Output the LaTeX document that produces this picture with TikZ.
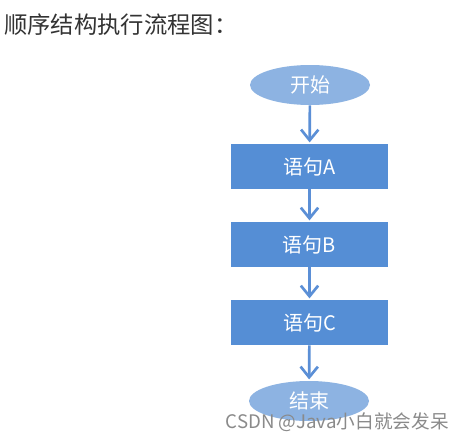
\documentclass[tikz,border=0pt]{standalone}
\usepackage{fontspec}
\setmainfont{Noto Sans CJK SC}
\usetikzlibrary{shapes.geometric,arrows.meta}
\definecolor{boxblue}{HTML}{558ED5}
\definecolor{ellblue}{HTML}{8DB3E2}
\definecolor{arrblue}{HTML}{5B8FD6}
\definecolor{titlegray}{HTML}{333333}
\definecolor{wmgray}{HTML}{8A8A8A}
\tikzset{
  stepbox/.style={fill=boxblue, draw=none, minimum width=157*0.75pt, minimum height=45*0.75pt, inner sep=0pt, text=white, font=\fontsize{15}{17}\selectfont},
  terminal/.style={ellipse, fill=ellblue, draw=none, minimum width=120*0.75pt, minimum height=40*0.75pt, inner sep=0pt, text=white, font=\fontsize{15}{17}\selectfont},
  flow/.style={draw=arrblue, line width=2pt, -{Straight Barb[length=8pt,width=13pt,line width=2pt]}, shorten >=1pt}
}
\begin{document}
\begin{tikzpicture}[x=0.75pt,y=-0.75pt]
\useasboundingbox[fill=white] (0,0) rectangle (465,443);
\node[anchor=west, text=titlegray, font=\fontsize{17.5}{19}\selectfont, inner sep=0pt] (title) at (4,25) {顺序结构执行流程图：};
\node[terminal] (start) at (310,85) {开始};
\node[stepbox] (a) at (309.5,166.5) {语句A};
\node[stepbox] (b) at (309.5,244.5) {语句B};
\node[stepbox] (c) at (309.5,322.5) {语句C};
\node[terminal] (end) at (309,401) {结束};
\draw[flow] (start) -- (a);
\draw[flow] (a) -- (b);
\draw[flow] (b) -- (c);
\draw[flow] (c) -- (end);
\node[anchor=east, text=wmgray, font=\fontsize{14}{16}\selectfont, inner sep=0pt] (wm) at (449,422) {CSDN @Java小白就会发呆};
\end{tikzpicture}
\end{document}
